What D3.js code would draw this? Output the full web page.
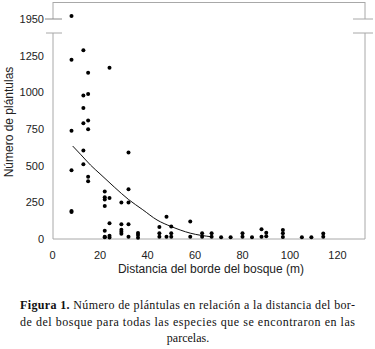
<!DOCTYPE html>
<html>
<head>
<meta charset="utf-8">
<script src="https://cdn.jsdelivr.net/npm/d3@7"></script>
<style>
  body { margin: 0; background: #fff; }
  svg { display: block; }
</style>
</head>
<body>
<svg id="chart"></svg>
<script>
const width = 375;
const height = 349;

// distance from forest edge (m) and seedling counts
const distance = [
  8,
  13, 8, 24, 15,
  13, 15, 13, 13, 15, 15, 8, 13, 32,
  8, 13, 15, 15, 22, 22, 22, 24, 22, 29, 32, 32, 8, 8,
  24, 22, 22, 22, 24, 24, 29, 29, 29, 29, 32, 32, 36, 36, 36,
  45, 45, 45, 48, 48, 50, 50, 50,
  58, 58, 63, 63, 67, 67, 71, 75, 80, 80, 84, 88, 88, 90, 90,
  97, 97, 97, 105, 109, 114, 114
];
const seedlings = [
  1970,
  1290, 1225, 1170, 1135,
  980, 990, 895, 790, 810, 750, 740, 605, 590,
  470, 510, 425, 395, 325, 285, 270, 280, 225, 250, 340, 250, 192, 184,
  107, 57, 12, 16, 23, 10, 100, 64, 50, 36, 100, 15, 41, 27, 9,
  82, 40, 16, 152, 16, 85, 40, 16,
  120, 16, 40, 16, 40, 16, 12, 12, 40, 16, 12, 66, 16, 43, 18,
  61, 39, 14, 12, 12, 38, 15
];

// trend line
const trendX = [8.5, 12, 16, 20, 26, 32, 38, 44, 50, 58, 67];
const trendY = [635, 575, 505, 445, 355, 270, 200, 130, 85, 40, 15];

const xTicks = [0, 20, 40, 60, 80, 100, 120];
const yTicksLow = [0, 250, 500, 750, 1000, 1250];
const yTicksHigh = [1950];

const caption1 = "Número de plántulas en relación a la distancia del bor-";
const caption2 = "de del bosque para todas las especies que se encontraron en las";
const caption3 = "parcelas.";

const svg = d3.select("#chart")
  .attr("width", width)
  .attr("height", height);

const pLeft = 53, pRight = 365, pTop = 2, pBottom = 239;
const breakHi = 19, breakLo = 33;

const x = d3.scaleLinear().domain([0, 120]).range([52.5, 337.5]);
const yLow = d3.scaleLinear().domain([0, 1250]).range([pBottom, 56]);
const yHigh = d3.scaleLinear().domain([1950, 2000]).range([breakHi, breakHi - 50 * 183 / 1250]);

const y = v => v > 1500 ? yHigh(v) : yLow(v);

const frame = "#a8a8a8";

// frame with broken sides
const g = svg.append("g").attr("stroke", frame).attr("stroke-width", 1).attr("fill", "none");
g.append("line").attr("x1", pLeft).attr("x2", pRight).attr("y1", pTop + 0.5).attr("y2", pTop + 0.5);
g.append("line").attr("x1", pLeft).attr("x2", pRight).attr("y1", pBottom).attr("y2", pBottom);
[pLeft, pRight].forEach(function(px) {
  g.append("line").attr("x1", px).attr("x2", px).attr("y1", pTop).attr("y2", breakHi);
  g.append("line").attr("x1", px).attr("x2", px).attr("y1", breakLo).attr("y2", pBottom);
});
g.append("line").attr("x1", 45).attr("x2", 62).attr("y1", breakHi).attr("y2", breakHi).attr("stroke", "#888");
g.append("line").attr("x1", 46).attr("x2", 62).attr("y1", breakLo).attr("y2", breakLo);
g.append("line").attr("x1", 353).attr("x2", 373).attr("y1", breakHi).attr("y2", breakHi);
g.append("line").attr("x1", 353).attr("x2", 373).attr("y1", breakLo).attr("y2", breakLo);

const tickFont = "'Liberation Sans', Arial, sans-serif";

svg.append("g")
  .selectAll("text")
  .data(yTicksLow.map(v => [v, yLow(v)]).concat(yTicksHigh.map(v => [v, yHigh(v)])))
  .join("text")
  .attr("x", 44)
  .attr("y", d => d[1])
  .attr("dy", "0.35em")
  .attr("text-anchor", "end")
  .attr("font-family", tickFont)
  .attr("font-size", 11)
  .attr("fill", "#222")
  .text(d => d[0]);

svg.append("g")
  .selectAll("text")
  .data(xTicks)
  .join("text")
  .attr("x", d => x(d))
  .attr("y", 259)
  .attr("text-anchor", "middle")
  .attr("font-family", tickFont)
  .attr("font-size", 11)
  .attr("fill", "#222")
  .text(d => d);

svg.append("text")
  .attr("transform", "translate(13,122) rotate(-90)")
  .attr("text-anchor", "middle")
  .attr("font-family", tickFont)
  .attr("font-size", 12)
  .attr("fill", "#222")
  .text("Número de plántulas");

svg.append("text")
  .attr("x", 211)
  .attr("y", 273)
  .attr("text-anchor", "middle")
  .attr("font-family", tickFont)
  .attr("font-size", 12)
  .attr("fill", "#222")
  .text("Distancia del borde del bosque (m)");

// trend line
const line = d3.line()
  .x(d => x(d[0]))
  .y(d => yLow(d[1]))
  .curve(d3.curveMonotoneX);

svg.append("path")
  .datum(trendX.map((d, i) => [d, trendY[i]]))
  .attr("d", line)
  .attr("fill", "none")
  .attr("stroke", "#111")
  .attr("stroke-width", 1);

svg.append("g")
  .selectAll("circle")
  .data(distance.map((d, i) => [d, seedlings[i]]))
  .join("circle")
  .attr("cx", d => x(d[0]))
  .attr("cy", d => y(d[1]))
  .attr("r", 2)
  .attr("fill", "#000");

// caption
const serif = "'Liberation Serif', 'Times New Roman', serif";
const c1 = svg.append("text")
  .attr("x", 20)
  .attr("y", 309)
  .attr("font-family", serif)
  .attr("font-size", 12)
  .attr("fill", "#111")
  .attr("textLength", 335)
  .attr("lengthAdjust", "spacing");
c1.append("tspan").attr("font-weight", "bold").text("Figura 1. ");
c1.append("tspan").text(caption1);

svg.append("text")
  .attr("x", 20)
  .attr("y", 326)
  .attr("font-family", serif)
  .attr("font-size", 12)
  .attr("fill", "#111")
  .attr("textLength", 335)
  .attr("lengthAdjust", "spacing")
  .text(caption2);

svg.append("text")
  .attr("x", 188)
  .attr("y", 342)
  .attr("text-anchor", "middle")
  .attr("font-family", serif)
  .attr("font-size", 12)
  .attr("fill", "#111")
  .text(caption3);
</script>
</body>
</html>
